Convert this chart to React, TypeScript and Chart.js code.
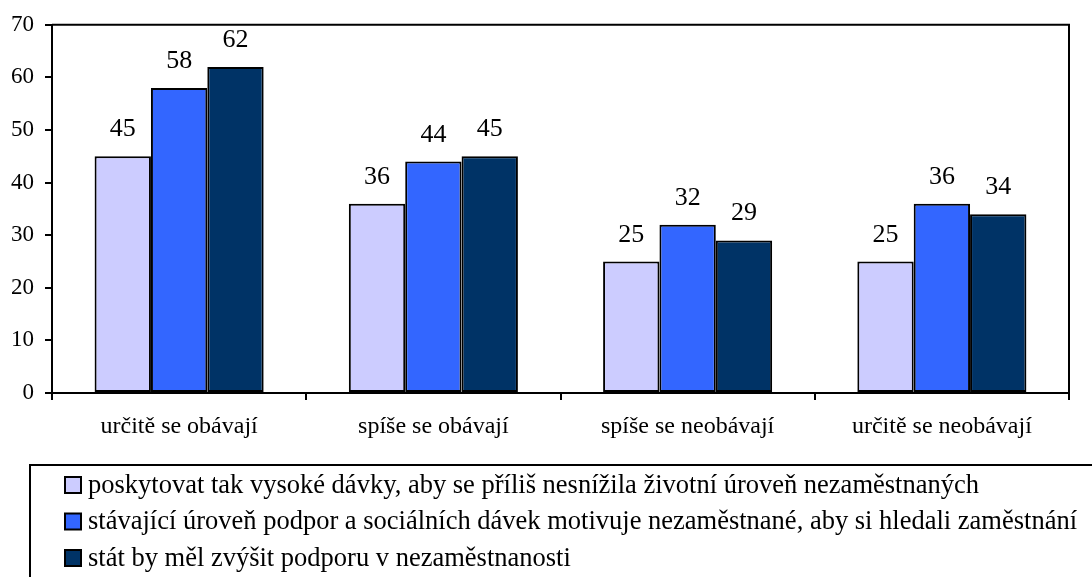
import React, { useEffect, useRef } from "react";
import { Chart, registerables } from "chart.js";

Chart.register(...registerables);

const categories = ["určitě se obávají", "spíše se obávají", "spíše se neobávají", "určitě se neobávají"];
const seriesLabels = [
  "poskytovat tak vysoké dávky, aby se příliš nesnížila životní úroveň nezaměstnaných",
  "stávající úroveň podpor a sociálních dávek motivuje nezaměstnané, aby si hledali zaměstnání",
  "stát by měl zvýšit podporu v nezaměstnanosti",
];
const series1 = [45, 36, 25, 25];
const series2 = [58, 44, 32, 36];
const series3 = [62, 45, 29, 34];
const colors = ["#CCCCFF", "#3366FF", "#003366"];
const yTicks = [0, 10, 20, 30, 40, 50, 60, 70];

const FONT = "'Liberation Serif', 'Times New Roman', serif";

const framePlugin = {
  id: "frame",
  afterDatasetsDraw(chart: any) {
    const { ctx, chartArea } = chart;
    ctx.save();
    ctx.strokeStyle = "#000";
    ctx.lineWidth = 2;
    ctx.beginPath();
    ctx.moveTo(chartArea.left, chartArea.top);
    ctx.lineTo(chartArea.right, chartArea.top);
    ctx.lineTo(chartArea.right, chartArea.bottom);
    ctx.stroke();
    ctx.restore();
  },
};

const labelsPlugin = {
  id: "valueLabels",
  afterDatasetsDraw(chart: any) {
    const { ctx } = chart;
    ctx.save();
    ctx.font = `26px ${FONT}`;
    ctx.fillStyle = "#000";
    ctx.textAlign = "center";
    ctx.textBaseline = "alphabetic";
    chart.data.datasets.forEach((ds: any, i: number) => {
      const meta = chart.getDatasetMeta(i);
      meta.data.forEach((bar: any, j: number) => {
        ctx.fillText(String(ds.data[j]), bar.x, bar.y - 20);
      });
    });
    ctx.restore();
  },
};

const legendPlugin = {
  id: "boxLegend",
  afterDraw(chart: any) {
    const { ctx } = chart;
    ctx.save();
    ctx.strokeStyle = "#000";
    ctx.lineWidth = 2;
    ctx.strokeRect(30, 465, 1092, 200);
    ctx.font = `26.5px ${FONT}`;
    ctx.textBaseline = "middle";
    ctx.textAlign = "left";
    const rows = [485, 521.5, 558];
    chart.data.datasets.forEach((ds: any, i: number) => {
      const cy = rows[i];
      ctx.fillStyle = ds.backgroundColor;
      ctx.fillRect(65, cy - 8, 16, 16);
      ctx.lineWidth = 2;
      ctx.strokeStyle = "#000";
      ctx.strokeRect(65, cy - 8, 16, 16);
      ctx.fillStyle = "#000";
      ctx.fillText(ds.label, 88, cy + 1);
    });
    ctx.restore();
  },
};

export default function App() {
  const ref = useRef<HTMLCanvasElement>(null);
  useEffect(() => {
    if (!ref.current) return;
    const data = [series1, series2, series3];
    const chart = new Chart(ref.current, {
      type: "bar",
      data: {
        labels: categories,
        datasets: data.map((d, i) => ({
          label: seriesLabels[i],
          data: d,
          backgroundColor: colors[i],
          borderColor: "#000",
          borderWidth: 2,
          borderSkipped: false,
          categoryPercentage: 0.665,
          barPercentage: 1,
        })),
      },
      options: {
        responsive: false,
        animation: false,
        events: [],
        layout: { padding: { top: 24, right: 23, left: 0, bottom: 124 } },
        plugins: { legend: { display: false }, tooltip: { enabled: false } },
        scales: {
          x: {
            offset: true,
            grid: {
              offset: true,
              drawOnChartArea: false,
              drawTicks: true,
              tickLength: 7,
              color: "#000",
              lineWidth: 2,
            },
            border: { display: true, color: "#000", width: 2 },
            ticks: {
              color: "#000",
              font: { family: FONT, size: 24 },
              padding: 12,
              maxRotation: 0,
            },
            afterFit(scale: any) {
              scale.height = 60;
            },
          },
          y: {
            min: 0,
            max: 70,
            afterBuildTicks(scale: any) {
              scale.ticks = yTicks.map((v) => ({ value: v }));
            },
            grid: {
              drawOnChartArea: false,
              drawTicks: true,
              tickLength: 7,
              color: "#000",
              lineWidth: 2,
            },
            border: { display: true, color: "#000", width: 2 },
            ticks: {
              color: "#000",
              font: { family: FONT, size: 23 },
              padding: 11,
            },
            afterFit(scale: any) {
              scale.width = 52;
            },
          },
        },
      },
      plugins: [framePlugin, labelsPlugin, legendPlugin],
    });
    return () => chart.destroy();
  }, []);
  return (
    <div style={{ position: "fixed", left: 0, top: 0, width: 1092, height: 577, background: "#fff" }}>
      <canvas ref={ref} width={1092} height={577} style={{ width: 1092, height: 577, display: "block" }} />
    </div>
  );
}
